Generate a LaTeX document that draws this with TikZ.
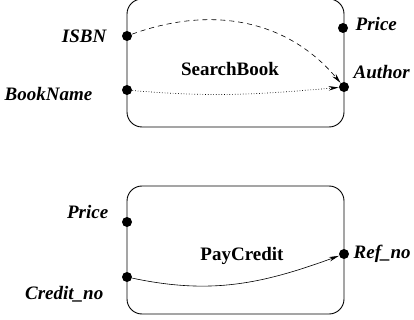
\documentclass[tikz,border=0pt]{standalone}
\usepackage{fontspec}
\setmainfont{Liberation Serif}
\usetikzlibrary{arrows}
\usetikzlibrary{arrows.meta}

\begin{document}
\begin{tikzpicture}[x=1pt,y=-1pt,>={Stealth[length=10pt,width=4.5pt]},thick,
                    service/.style={draw,rounded corners=15pt,line width=0.9pt,
                                    minimum width=217pt,minimum height=128pt},
                    port/.style={circle,fill=black,inner sep=0pt,minimum size=10pt},
                    portname/.style={font=\fontsize{19}{21}\selectfont\bfseries\itshape},
                    title/.style={font=\fontsize{19}{21}\selectfont\bfseries}]
        \useasboundingbox (0,0) rectangle (414,320);

        % SearchBook
        \node[service] (search) at (235.5,63) {};
        \node[title] (searchname) at (230,69) {SearchBook};
        \node[port] (isbn) at (127,36) {};
        \node[port] (bookname) at (127,90) {};
        \node[port] (price) at (343,28) {};
        \node[port] (author) at (344,87) {};
        \node[portname,anchor=east] at (110,36) {ISBN};
        \node[portname,anchor=east] at (96,94) {BookName};
        \node[portname,anchor=west] at (352,24) {Price};
        \node[portname,anchor=west] at (350,72) {Author};

        % PayCredit
        \node[service] (pay) at (235.5,250) {};
        \node[title] (payname) at (242,256) {PayCredit};
        \node[port] (pricepay) at (127,222) {};
        \node[port] (creditno) at (127,277) {};
        \node[port] (refno) at (344,254) {};
        \node[portname,anchor=east] at (112,212) {Price};
        \node[portname,anchor=east] at (107,294) {Credit\_no};
        \node[portname,anchor=west] at (350,254) {Ref\_no};

        \draw[->,dash pattern=on 5pt off 4pt,line width=0.6pt] (isbn) to[out=20,in=130] (author);
        \draw[->,dotted,line width=0.7pt] (bookname) to[out=-5,in=185] (author);
        \draw[->,line width=0.6pt] (creditno) to[out=-12,in=200] (refno);
\end{tikzpicture}
\end{document}
